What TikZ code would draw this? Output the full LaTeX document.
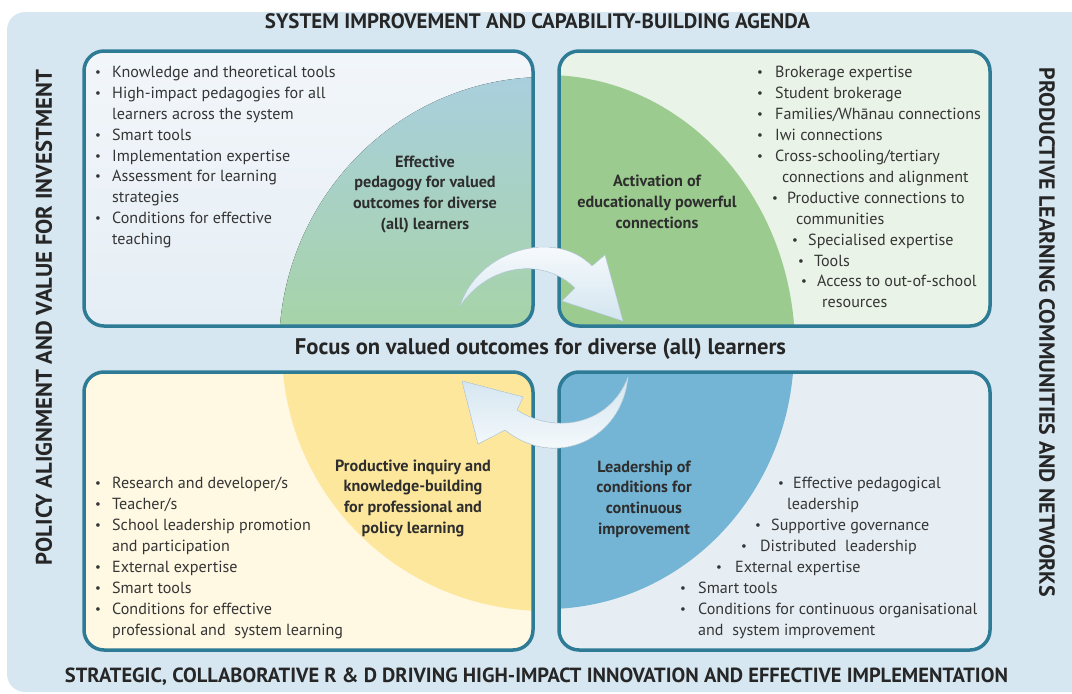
\documentclass[tikz,border=0pt]{standalone}
\usepackage{fontspec}
\setmainfont{PT Sans}
\definecolor{bgblue}{HTML}{D6E7F1}
\definecolor{framecol}{HTML}{2E7B96}
\definecolor{tlbgtop}{HTML}{F2F6FA}
\definecolor{tlbgbot}{HTML}{E5EEF5}
\definecolor{tlqtop}{HTML}{A9CFE3}
\definecolor{tlqbot}{HTML}{A7D3A8}
\definecolor{trbg}{HTML}{EAF3E7}
\definecolor{trq}{HTML}{9BCB8F}
\definecolor{blbg}{HTML}{FFF8E2}
\definecolor{blq}{HTML}{FCE79C}
\definecolor{brbg}{HTML}{E6EEF4}
\definecolor{brq}{HTML}{74B5D6}
\definecolor{txtgray}{HTML}{353535}
\definecolor{labgray}{HTML}{2E2E2E}
\definecolor{titlegray}{HTML}{262626}
\definecolor{arrowshade}{HTML}{D3E5F0}
\definecolor{arrowedge}{HTML}{C3D7E5}

% small round bullet
\newcommand\dotmark{\raisebox{0.5pt}{\scalebox{0.8}{\textbullet}}}
% one bulleted line: name, x, baseline y, bullet box width, text
\newcommand\bitem[5]{\node[bodytxt] (#1) at (#2,#3) {\makebox[#4][l]{\dotmark}#5};}
% continuation line of a bullet: name, x, baseline y, text
\newcommand\citem[4]{\node[bodytxt] (#1) at (#2,#3) {#4};}

\begin{document}
\begin{tikzpicture}[x=1pt,y=-1pt,
  panel/.style={draw=framecol, line width=3.5pt, rounded corners=20pt},
  bodytxt/.style={anchor=base west, inner sep=0pt, text=txtgray,
    font=\fontsize{16.1}{20.8}\selectfont},
  labtxt/.style={anchor=base, inner sep=0pt, align=center, text=labgray,
    font=\fontsize{16.2}{20.6}\selectfont\bfseries},
  titletxt/.style={inner sep=0pt, text=titlegray, font=\bfseries},
  arrowbody/.style={draw=arrowedge, line width=0.6pt, line join=round}
]
\useasboundingbox (0,0) rectangle (1072,694);

% page background
\begin{scope}
  \clip (0,0) rectangle (1072,694);
  \fill[bgblue, rounded corners=18pt] (7,12) rectangle (1100,692);
\end{scope}

% top-left quadrant: effective pedagogy
\begin{scope}
  \clip[rounded corners=20pt] (84,51) rectangle (533,326);
  \fill[top color=tlbgtop, bottom color=tlbgbot] (84,51) rectangle (533,326);
  \clip (546,349) ellipse[x radius=267pt, y radius=272pt];
  \fill[top color=tlqtop, bottom color=tlqbot] (270,51) rectangle (533,326);
\end{scope}
\draw[panel] (84,51) rectangle (533,326);

% top-right quadrant: powerful connections
\begin{scope}
  \clip[rounded corners=20pt] (559,51) rectangle (990,326);
  \fill[trbg] (559,51) rectangle (990,326);
  \fill[trq] (546,349) ellipse[x radius=249pt, y radius=274pt];
\end{scope}
\draw[panel] (559,51) rectangle (990,326);

% bottom-left quadrant: productive inquiry
\begin{scope}
  \clip[rounded corners=20pt] (84,372) rectangle (533,650);
  \fill[blbg] (84,372) rectangle (533,650);
  \fill[blq] (546,349) ellipse[x radius=264pt, y radius=262pt];
\end{scope}
\draw[panel] (84,372) rectangle (533,650);

% bottom-right quadrant: leadership
\begin{scope}
  \clip[rounded corners=20pt] (559,372) rectangle (990,650);
  \fill[brbg] (559,372) rectangle (990,650);
  \fill[brq] (546,349) ellipse[x radius=248pt, y radius=260pt];
\end{scope}
\draw[panel] (559,372) rectangle (990,650);

% curved cycle arrows
\fill[arrowbody, top color=white, middle color=white, bottom color=arrowshade]
  (460,306) .. controls (478,250) and (555,228) .. (592,266)
  -- (605,255) -- (623,321) -- (562,301) -- (575,288)
  .. controls (545,258) and (490,262) .. (460,306) -- cycle;
\fill[arrowbody, top color=arrowshade, middle color=white, bottom color=white]
  (628,377) .. controls (622,440) and (555,470) .. (505,430)
  -- (478,444) -- (462,381) -- (523,397) -- (517,410)
  .. controls (555,435) and (610,425) .. (628,377) -- cycle;

% frame titles
\node[titletxt, anchor=base] (ttop) at (537.5,28)
  {\resizebox{545pt}{!}{SYSTEM IMPROVEMENT AND CAPABILITY-BUILDING AGENDA}};
\node[titletxt, anchor=base] (tbot) at (536.5,682)
  {\resizebox{943pt}{!}{STRATEGIC, COLLABORATIVE R \& D DRIVING HIGH-IMPACT INNOVATION AND EFFECTIVE IMPLEMENTATION}};
\node[titletxt, rotate=90] (tleft) at (44,317.5)
  {\resizebox{495pt}{!}{POLICY ALIGNMENT AND VALUE FOR INVESTMENT}};
\node[titletxt, rotate=-90] (tright) at (1047,332.5)
  {\resizebox{529pt}{!}{PRODUCTIVE LEARNING COMMUNITIES AND NETWORKS}};
\node[titletxt, anchor=base] (focus) at (540.5,354)
  {\resizebox{491pt}{!}{Focus on valued outcomes for diverse (all) learners}};

% quadrant headings (anchored at the baseline of their last line)
\node[labtxt] (labtl) at (425,229)
  {Effective\\pedagogy for valued\\outcomes for diverse\\(all) learners};
\node[labtxt] (labtr) at (657,228)
  {Activation of\\educationally powerful\\connections};
\node[labtxt] (labbl) at (413,533)
  {Productive inquiry and\\knowledge-building\\for professional and\\policy learning};
\node[labtxt] (labbr) at (644,534)
  {Leadership of\\conditions for\\continuous\\improvement};

% top-left list
\bitem{tl1}{95}{77}{17pt}{Knowledge and theoretical tools}
\bitem{tl2}{95}{98}{17pt}{High-impact pedagogies for all}
\citem{tl3}{112}{119}{learners across the system}
\bitem{tl4}{95}{140}{17pt}{Smart tools}
\bitem{tl5}{95}{161}{17pt}{Implementation expertise}
\bitem{tl6}{95}{181}{17pt}{Assessment for learning}
\citem{tl7}{112}{202}{strategies}
\bitem{tl8}{95}{223}{17pt}{Conditions for effective}
\citem{tl9}{112}{244}{teaching}

% top-right list
\bitem{tr1}{757}{77}{18pt}{Brokerage expertise}
\bitem{tr2}{757}{98}{18pt}{Student brokerage}
\bitem{tr3}{757}{119}{18pt}{Families/Wh\=anau connections}
\bitem{tr4}{757}{140}{18pt}{Iwi connections}
\bitem{tr5}{757}{161}{18pt}{Cross-schooling/tertiary}
\citem{tr6}{782}{182}{connections and alignment}
\bitem{tr7}{772}{203}{15pt}{Productive connections to}
\citem{tr8}{796}{224}{communities}
\bitem{tr9}{792}{245}{16pt}{Specialised expertise}
\bitem{tr10}{798}{266}{16pt}{Tools}
\bitem{tr11}{801}{286}{16pt}{Access to out-of-school}
\citem{tr12}{822}{307}{resources}

% bottom-left list
\bitem{bl1}{95}{488}{17pt}{Research and developer/s}
\bitem{bl2}{95}{509}{17pt}{Teacher/s}
\bitem{bl3}{95}{530}{17pt}{School leadership promotion}
\citem{bl4}{112}{551}{and participation}
\bitem{bl5}{95}{572}{17pt}{External expertise}
\bitem{bl6}{95}{593}{17pt}{Smart tools}
\bitem{bl7}{95}{614}{17pt}{Conditions for effective}
\citem{bl8}{112}{635}{professional and\ \ system learning}

% bottom-right list
\bitem{br1}{778}{488}{15pt}{Effective pedagogical}
\citem{br2}{787}{509}{leadership}
\bitem{br3}{755}{530}{16pt}{Supportive governance}
\bitem{br4}{741}{551}{19pt}{Distributed\ \ leadership}
\bitem{br5}{716}{572}{19pt}{External expertise}
\bitem{br6}{680}{593}{18pt}{Smart tools}
\bitem{br7}{680}{614}{18pt}{Conditions for continuous organisational}
\citem{br8}{698}{635}{and\ \ system improvement}
\end{tikzpicture}
\end{document}
